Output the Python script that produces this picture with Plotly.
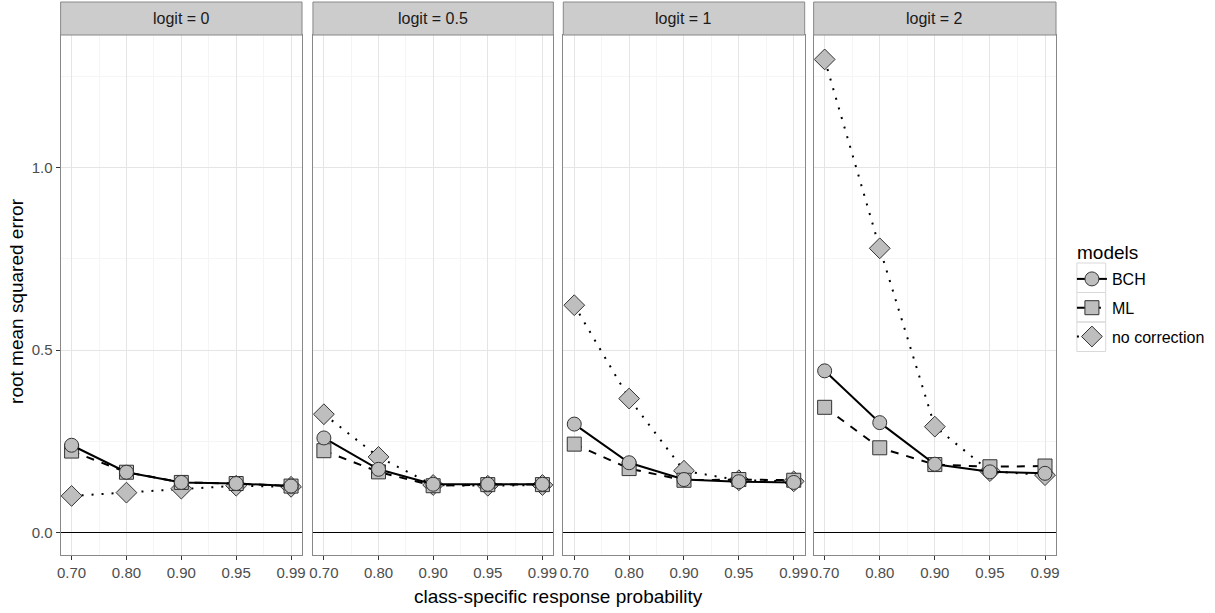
import plotly.graph_objects as go

W, H = 1215, 613

# ---------------- data ----------------
x_labels = ["0.70", "0.80", "0.90", "0.95", "0.99"]
panels = ["logit = 0", "logit = 0.5", "logit = 1", "logit = 2"]

bch = [
    [0.239, 0.165, 0.137, 0.134, 0.127],
    [0.259, 0.173, 0.132, 0.132, 0.132],
    [0.297, 0.191, 0.145, 0.139, 0.137],
    [0.443, 0.301, 0.187, 0.166, 0.162],
]
ml = [
    [0.223, 0.165, 0.137, 0.134, 0.127],
    [0.224, 0.166, 0.128, 0.131, 0.131],
    [0.242, 0.175, 0.143, 0.145, 0.143],
    [0.343, 0.232, 0.186, 0.180, 0.182],
]
nocorr = [
    [0.100, 0.109, 0.120, 0.128, 0.125],
    [0.324, 0.207, 0.130, 0.128, 0.130],
    [0.623, 0.367, 0.169, 0.143, 0.140],
    [1.297, 0.779, 0.290, 0.168, 0.157],
]
models = ["BCH", "ML", "no correction"]

# ---------------- style ----------------
FONT = "Arial, Liberation Sans, sans-serif"
FILL = "#BEBEBE"
OUTLINE = "#333333"
style = {
    "BCH": dict(symbol="circle", size=14, dash="solid"),
    "ML": dict(symbol="square", size=14, dash="8px,8px"),
    "no correction": dict(symbol="diamond", size=16, dash="2px,8px"),
}
series = {"BCH": bch, "ML": ml, "no correction": nocorr}

# panel geometry in pixels
panel_x = [(57, 300), (311, 553), (563, 806), (815, 1059)]
plot_top, plot_bot = 35, 555
strip_top = 2

fig = go.Figure()
xpos = list(range(len(x_labels)))

draw_order = ["no correction", "ML", "BCH"]
for i in range(4):
    xa = "x" if i == 0 else f"x{i+1}"
    ya = "y" if i == 0 else f"y{i+1}"
    for m in draw_order:
        st = style[m]
        fig.add_trace(go.Scatter(
            x=xpos, y=series[m][i], mode="lines+markers", name=m,
            xaxis=xa, yaxis=ya, legendgroup=m, showlegend=(i == 0),
            legendrank={"BCH": 1, "ML": 2, "no correction": 3}[m],
            line=dict(color="black", width=2, dash=st["dash"]),
            marker=dict(symbol=st["symbol"], size=st["size"], color=FILL,
                        line=dict(color=OUTLINE, width=1)),
        ))

layout = dict(
    width=W, height=H, margin=dict(l=0, r=0, t=0, b=0),
    paper_bgcolor="white", plot_bgcolor="white",
    font=dict(family=FONT, color="#4D4D4D", size=15),
    showlegend=True,
    legend=dict(
        x=1075 / W, y=1 - 262 / H, xanchor="left", yanchor="top",
        font=dict(size=16, color="black"), tracegroupgap=5,
        bgcolor="rgba(0,0,0,0)",
    ),
)

for i in range(4):
    xk = "xaxis" if i == 0 else f"xaxis{i+1}"
    yk = "yaxis" if i == 0 else f"yaxis{i+1}"
    x0, x1 = panel_x[i]
    layout[xk] = dict(
        domain=[x0 / W, x1 / W], anchor="y" if i == 0 else f"y{i+1}",
        range=[-0.2, 4.2], tickmode="array", tickvals=xpos, ticktext=x_labels,
        showgrid=True, gridcolor="#E5E5E5", gridwidth=1,
        minor=dict(showgrid=True, gridcolor="#F5F5F5", tickmode="array",
                   tickvals=[0.5, 1.5, 2.5, 3.5]),
        ticks="outside", ticklen=4, tickcolor="#333333",
        tickfont=dict(size=15, color="#4D4D4D"),
        showline=True, mirror=True, linecolor="#888888", linewidth=1,
        zeroline=False, fixedrange=True,
    )
    layout[yk] = dict(
        domain=[1 - plot_bot / H, 1 - plot_top / H],
        anchor="x" if i == 0 else f"x{i+1}",
        range=[-0.062, 1.364], tickmode="array", tickvals=[0, 0.5, 1.0],
        ticktext=["0.0", "0.5", "1.0"],
        showgrid=True, gridcolor="#E5E5E5", gridwidth=1,
        minor=dict(showgrid=True, gridcolor="#F5F5F5", tickmode="array",
                   tickvals=[0.25, 0.75, 1.25]),
        ticks="outside" if i == 0 else "", ticklen=4, tickcolor="#333333",
        showticklabels=(i == 0),
        tickfont=dict(size=15, color="#4D4D4D"),
        showline=True, mirror=True, linecolor="#888888", linewidth=1,
        zeroline=True, zerolinecolor="black", zerolinewidth=1,
        fixedrange=True,
    )

fig.update_layout(**layout)

# strips
for i, label in enumerate(panels):
    x0, x1 = panel_x[i]
    fig.add_shape(type="rect", xref="paper", yref="paper",
                  x0=x0 / W, x1=x1 / W, y0=1 - plot_top / H, y1=1 - strip_top / H,
                  fillcolor="#CCCCCC", line=dict(color="#888888", width=1))
    fig.add_annotation(text=label, xref="paper", yref="paper",
                       x=(x0 + x1) / 2 / W, y=1 - (strip_top + plot_top) / 2 / H,
                       showarrow=False, font=dict(size=16, color="#1A1A1A"),
                       xanchor="center", yanchor="middle")

# legend title and key boxes
fig.add_annotation(text="models", xref="paper", yref="paper",
                   x=1078 / W, y=1 - 252 / H, showarrow=False,
                   font=dict(size=19, color="black"), xanchor="left", yanchor="middle")
for k in range(3):
    y0 = 263 + k * 29.5
    fig.add_shape(type="rect", xref="paper", yref="paper",
                  x0=1080 / W, x1=1109 / W, y0=1 - (y0 + 29.5) / H, y1=1 - y0 / H,
                  fillcolor="rgba(0,0,0,0)", line=dict(color="#D9D9D9", width=1),
                  layer="below")

# axis titles
fig.add_annotation(text="class-specific response probability", xref="paper", yref="paper",
                   x=(57 + 1059) / 2 / W, y=1 - 596 / H, showarrow=False,
                   font=dict(size=19, color="black"), xanchor="center", yanchor="middle")
fig.add_annotation(text="root mean squared error", xref="paper", yref="paper",
                   x=12 / W, y=1 - 301 / H, showarrow=False,
                   textangle=-90, font=dict(size=19, color="black"),
                   xanchor="center", yanchor="middle")

fig.write_html("out.html")
